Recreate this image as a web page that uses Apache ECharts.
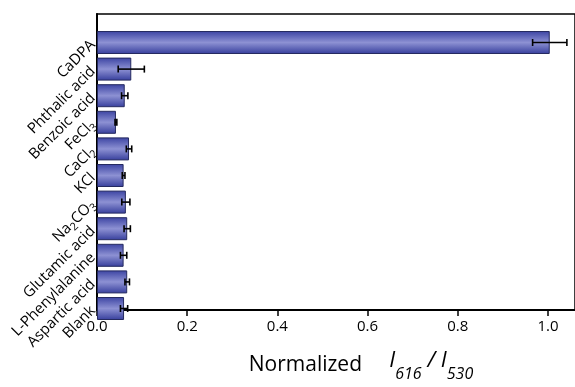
<!DOCTYPE html>
<html><head><meta charset="utf-8">
<script src="https://cdn.jsdelivr.net/npm/echarts@6/dist/echarts.min.js"></script>
<style>html,body{margin:0;padding:0;background:#fff}#c{width:575px;height:387px}</style>
</head><body><div id="c"></div>
<script>
var categories = ['CaDPA','Phthalic acid','Benzoic acid','FeCl3','CaCl2','KCl','Na2CO3','Glutamic acid','L-Phenylalanine','Aspartic acid','Blank'];
var values = [1.004, 0.076, 0.0615, 0.042, 0.071, 0.059, 0.064, 0.067, 0.059, 0.067, 0.060];
var errors = [0.038, 0.029, 0.007, 0.002, 0.006, 0.003, 0.009, 0.007, 0.007, 0.005, 0.008];
var xTicks = [0, 0.2, 0.4, 0.6, 0.8, 1.0];

var richLabels = {
  'FeCl3': 'FeCl{sub|3}',
  'CaCl2': 'CaCl{sub|2}',
  'Na2CO3': 'Na{sub|2}CO{sub|3}'
};
var FONT = 'Open Sans';
var chart = echarts.init(document.getElementById('c'), null, {renderer: 'canvas'});
var errData = values.map(function (v, i) { return [v - errors[i], v + errors[i], i]; });
var XMAX = 1.06;
chart.setOption({
  animation: false,
  backgroundColor: '#fff',
  grid: [
    {left: 97, right: -5, top: 14, bottom: 59, show: true, borderColor: '#000', borderWidth: 1.5, backgroundColor: 'transparent'},
    {left: 97, right: -5, top: 29.2, bottom: 65.2}
  ],
  xAxis: [
    {gridIndex: 0, type: 'value', min: 0, max: XMAX, interval: 0.2,
     axisLine: {show: true, lineStyle: {color: '#000', width: 2}},
     axisTick: {show: true, length: 6, lineStyle: {color: '#000', width: 1.5}},
     splitLine: {show: false},
     axisLabel: {color: '#000', fontFamily: FONT, fontSize: 15, margin: 9, showMaxLabel: false,
       formatter: function (v) { return xTicks.some(function (t) { return Math.abs(t - v) < 1e-6; }) ? v.toFixed(1) : ''; }},
     name: '{n|Normalized     }{i|I}{s|616}{i| / I}{s|530}', nameLocation: 'middle', nameGap: 38,
     nameTextStyle: {color: '#000', fontFamily: FONT, fontSize: 21, padding: [0, 0, 0, 50],
       rich: {n: {fontFamily: FONT, fontSize: 21, color: '#000', lineHeight: 34},
              i: {fontFamily: FONT, fontSize: 22, fontStyle: 'italic', color: '#000', lineHeight: 26, padding: [0, 0, 8, 0]},
              s: {fontFamily: FONT, fontSize: 16, fontStyle: 'italic', color: '#000', lineHeight: 16, padding: [18, 0, 0, 0]}}}
    },
    {gridIndex: 1, type: 'value', min: 0, max: XMAX, show: false, splitLine: {show: false}}
  ],
  yAxis: [
    {gridIndex: 0, type: 'value', min: 0, max: 1,
     axisLine: {show: true, lineStyle: {color: '#000', width: 2}},
     axisTick: {show: false}, axisLabel: {show: false}, splitLine: {show: false}},
    {gridIndex: 1, type: 'category', data: categories, inverse: true,
     axisLine: {show: false}, axisTick: {show: false},
     axisLabel: {rotate: 45, margin: 4, color: '#000', fontFamily: FONT, fontSize: 15, interval: 0,
       formatter: function (v) { return richLabels[v] || v; },
       rich: {sub: {fontFamily: FONT, fontSize: 11, color: '#000', padding: [9, 0, 0, 0]}}}
    }
  ],
  series: [
    {type: 'bar', xAxisIndex: 1, yAxisIndex: 1, data: values, barWidth: 23,
     itemStyle: {
       color: new echarts.graphic.LinearGradient(0, 0, 0, 1, [
         {offset: 0, color: '#3b43a2'},
         {offset: 0.5, color: '#8d91d3'},
         {offset: 1, color: '#363e9c'}
       ]),
       borderColor: '#252a60', borderWidth: 1
     }},
    {type: 'custom', xAxisIndex: 1, yAxisIndex: 1, data: errData, z: 5,
     renderItem: function (params, api) {
       var idx = api.value(2);
       var a = api.coord([api.value(0), idx]);
       var b = api.coord([api.value(1), idx]);
       var h = 3.5;
       var st = {stroke: '#000', lineWidth: 1.6};
       return {type: 'group', children: [
         {type: 'line', shape: {x1: a[0], y1: a[1], x2: b[0], y2: b[1]}, style: st},
         {type: 'line', shape: {x1: a[0], y1: a[1] - h, x2: a[0], y2: a[1] + h}, style: st},
         {type: 'line', shape: {x1: b[0], y1: b[1] - h, x2: b[0], y2: b[1] + h}, style: st}
       ]};
     }}
  ]
});
</script>
</body></html>
